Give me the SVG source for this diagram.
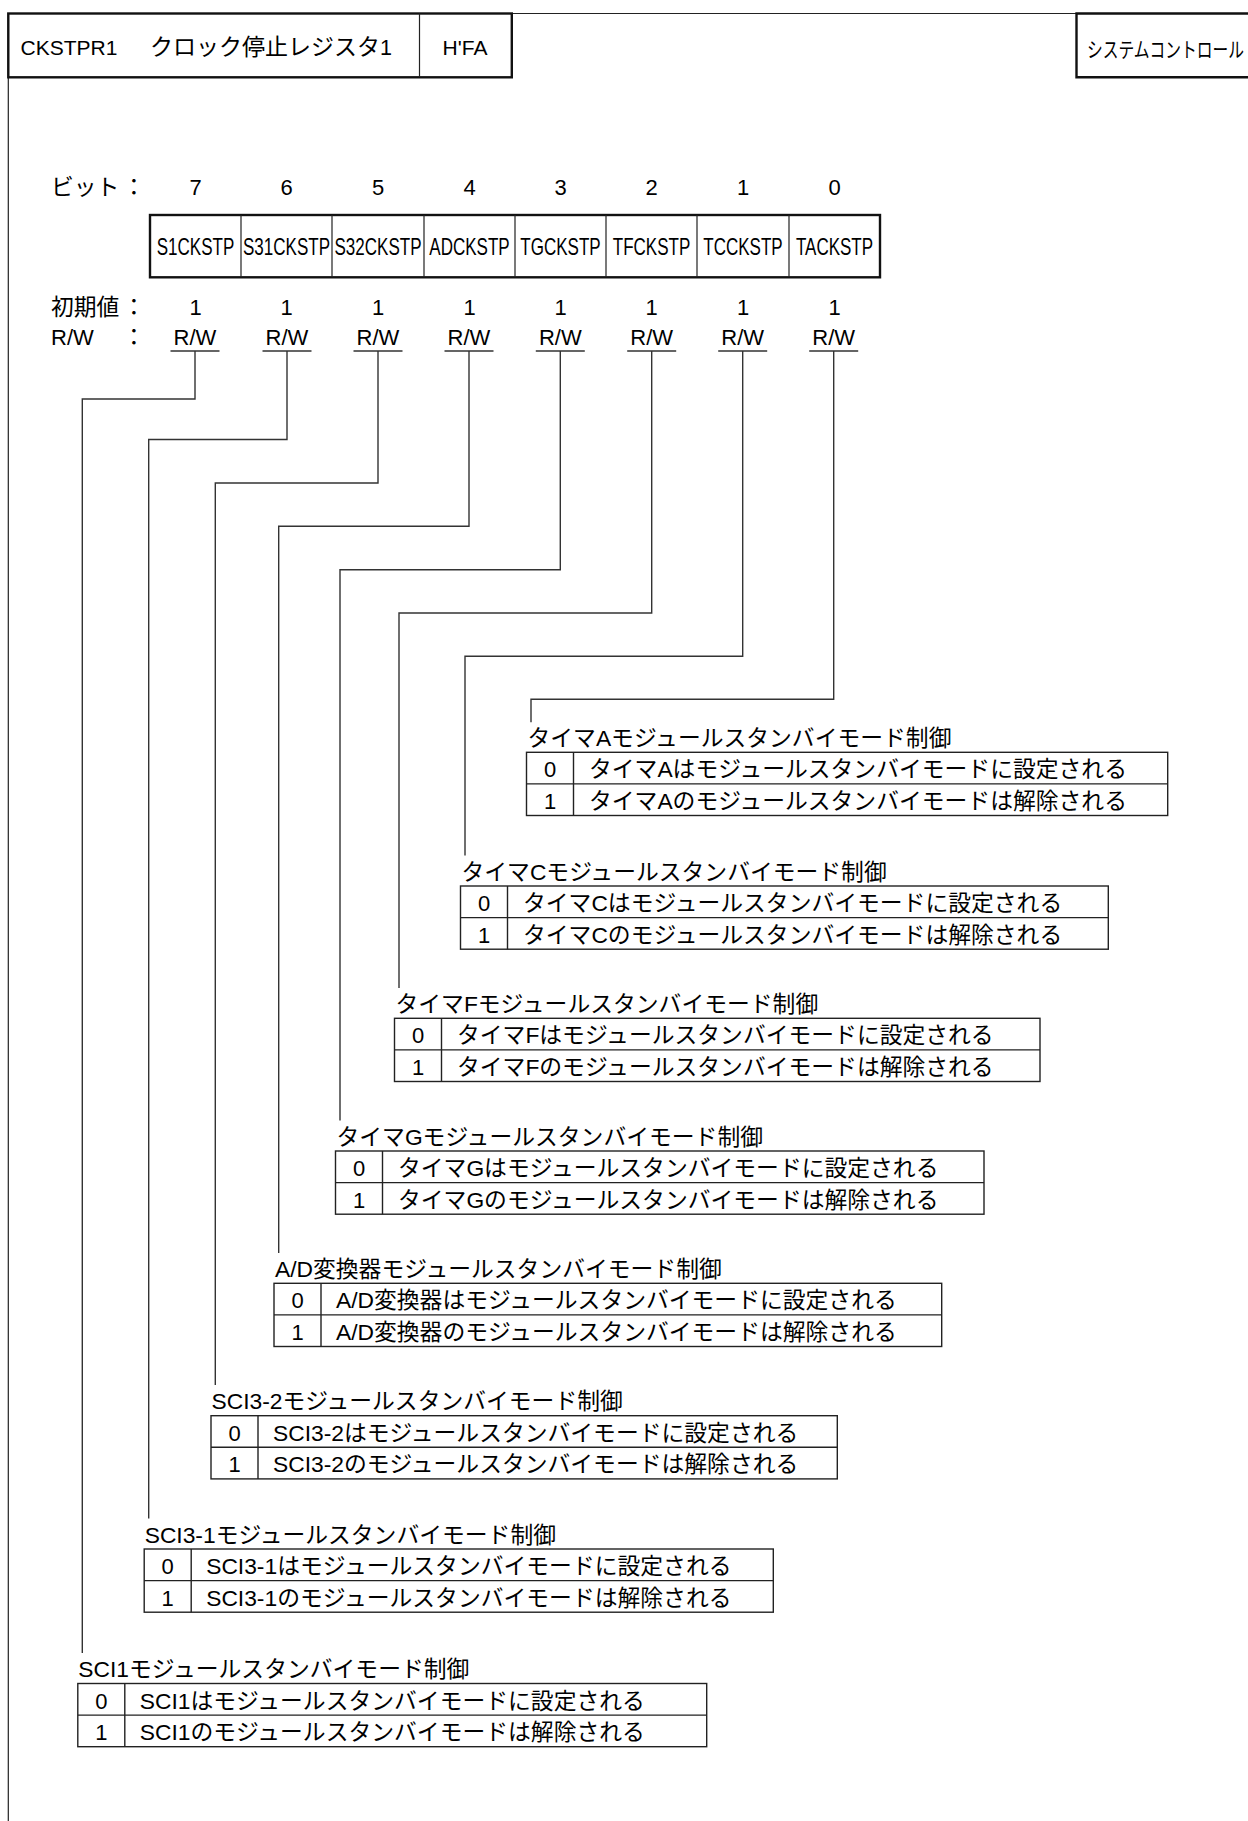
<svg xmlns="http://www.w3.org/2000/svg" width="1248" height="1821" viewBox="0 0 1248 1821">
<style>
.t{font-family:"Liberation Sans","Noto Sans CJK JP",sans-serif;fill:#000}
.s21{font-size:21px}
.s22{font-size:22px}
.s23{font-size:22.8px}
.d{font-size:22px}
.m{text-anchor:middle}
.cell{font-family:"Liberation Sans","Noto Sans CJK JP",sans-serif;font-size:23px;text-anchor:middle;fill:#000}
.thick{fill:none;stroke:#111;stroke-width:2.4}
.thin{fill:none;stroke:#222;stroke-width:1.2}
.tb{fill:none;stroke:#222;stroke-width:1.4}
.cn{fill:none;stroke:#333;stroke-width:1.4}
</style>
<rect x="0" y="0" width="1248" height="1821" fill="#fff"/>

<g id="frame">
<path class="thin" d="M8.3,1821 V13.5 H1248"/>
</g>

<g id="header">
<rect class="thick" x="8.3" y="13.5" width="503.5" height="63.8"/>
<line class="thin" x1="419.5" y1="13.5" x2="419.5" y2="77.3"/>
<text class="t s21" x="20.5" y="55">CKSTPR1<tspan x="150" style="font-size:23px">クロック停止レジスタ</tspan><tspan style="font-size:21.5px">1</tspan></text>
<text class="t s21 m" x="465" y="55">H'FA</text>
</g>

<g id="system-label">
<path class="thick" d="M1250,13.5 H1076.5 V77.3 H1250"/>
<text class="t" style="font-size:21px" transform="translate(1087,57) scale(0.75,1)">システムコントロール</text>
</g>

<g id="bit-labels">
<text class="t s23" x="51" y="195">ビット</text>
<text class="t s23 m" x="134" y="195">：</text>
<text class="t d m" x="195.5" y="195">7</text>
<text class="t d m" x="286.5" y="195">6</text>
<text class="t d m" x="378" y="195">5</text>
<text class="t d m" x="469.5" y="195">4</text>
<text class="t d m" x="560.5" y="195">3</text>
<text class="t d m" x="651.5" y="195">2</text>
<text class="t d m" x="743" y="195">1</text>
<text class="t d m" x="834.5" y="195">0</text>
</g>

<g id="bit-table">
<rect class="thick" x="150" y="215" width="730" height="62.3"/>
<path class="thin" d="M241,215V277.3M332,215V277.3M424,215V277.3M515,215V277.3M606,215V277.3M697,215V277.3M789,215V277.3"/>
<text class="cell" transform="translate(195.5,255) scale(0.74,1)">S1CKSTP</text>
<text class="cell" transform="translate(286.5,255) scale(0.74,1)">S31CKSTP</text>
<text class="cell" transform="translate(378,255) scale(0.74,1)">S32CKSTP</text>
<text class="cell" transform="translate(469.5,255) scale(0.74,1)">ADCKSTP</text>
<text class="cell" transform="translate(560.5,255) scale(0.74,1)">TGCKSTP</text>
<text class="cell" transform="translate(651.5,255) scale(0.74,1)">TFCKSTP</text>
<text class="cell" transform="translate(743,255) scale(0.74,1)">TCCKSTP</text>
<text class="cell" transform="translate(834.5,255) scale(0.74,1)">TACKSTP</text>
</g>

<g id="initial-values">
<text class="t s23" x="51" y="315">初期値</text>
<text class="t s23 m" x="134" y="315">：</text>
<text class="t d m" x="195.5" y="315">1</text>
<text class="t d m" x="286.5" y="315">1</text>
<text class="t d m" x="378" y="315">1</text>
<text class="t d m" x="469.5" y="315">1</text>
<text class="t d m" x="560.5" y="315">1</text>
<text class="t d m" x="651.5" y="315">1</text>
<text class="t d m" x="743" y="315">1</text>
<text class="t d m" x="834.5" y="315">1</text>
</g>

<g id="rw-row">
<text class="t s22" x="51" y="345">R/W</text>
<text class="t s23 m" x="134" y="345">：</text>
<g class="t s22 m">
<text x="195" y="345">R/W</text>
<text x="287" y="345">R/W</text>
<text x="378" y="345">R/W</text>
<text x="469" y="345">R/W</text>
<text x="560.3" y="345">R/W</text>
<text x="651.7" y="345">R/W</text>
<text x="742.7" y="345">R/W</text>
<text x="833.7" y="345">R/W</text>
</g>
<path class="cn" d="M170.5,351H219.5M262.5,351H311.5M353.5,351H402.5M444.5,351H493.5M535.8,351H584.8M627.2,351H676.2M718.2,351H767.2M809.2,351H858.2"/>
</g>

<g id="connectors">
<path class="cn" d="M195,351 V399 H82.3 V1653"/>
<path class="cn" d="M287,351 V439.5 H148.7 V1518.5"/>
<path class="cn" d="M378,351 V483 H215.3 V1385"/>
<path class="cn" d="M469,351 V526.3 H278.7 V1253"/>
<path class="cn" d="M560.3,351 V569.7 H340 V1120.5"/>
<path class="cn" d="M651.7,351 V613 H399 V988"/>
<path class="cn" d="M742.7,351 V656.3 H465 V855.5"/>
<path class="cn" d="M833.7,351 V699.3 H531 V722.3"/>
</g>

<g id="desc-bit0">
<text class="t s23" x="527.5" y="745.8">タイマAモジュールスタンバイモード制御</text>
<rect class="tb" x="526.5" y="752.3" width="641.2" height="63.2"/>
<path class="tb" d="M573.5,752.3V815.5M526.5,783.9H1167.7"/>
<text class="t d m" x="550" y="777.3">0</text>
<text class="t d m" x="550" y="808.9">1</text>
<text class="t s23" x="589" y="777.3">タイマAはモジュールスタンバイモードに設定される</text>
<text class="t s23" x="589" y="808.9">タイマAのモジュールスタンバイモードは解除される</text>
</g>

<g id="desc-bit1">
<text class="t s23" x="461.5" y="879.5">タイマCモジュールスタンバイモード制御</text>
<rect class="tb" x="460.5" y="886" width="647.8" height="63.2"/>
<path class="tb" d="M507.5,886V949.2M460.5,917.6H1108.3"/>
<text class="t d m" x="484" y="911">0</text>
<text class="t d m" x="484" y="942.6">1</text>
<text class="t s23" x="523" y="911">タイマCはモジュールスタンバイモードに設定される</text>
<text class="t s23" x="523" y="942.6">タイマCのモジュールスタンバイモードは解除される</text>
</g>

<g id="desc-bit2">
<text class="t s23" x="395.5" y="1011.8">タイマFモジュールスタンバイモード制御</text>
<rect class="tb" x="394.5" y="1018.3" width="645.5" height="63.2"/>
<path class="tb" d="M441.5,1018.3V1081.5M394.5,1049.9H1040"/>
<text class="t d m" x="418" y="1043.3">0</text>
<text class="t d m" x="418" y="1074.9">1</text>
<text class="t s23" x="457" y="1043.3">タイマFはモジュールスタンバイモードに設定される</text>
<text class="t s23" x="457" y="1074.9">タイマFのモジュールスタンバイモードは解除される</text>
</g>

<g id="desc-bit3">
<text class="t s23" x="336.5" y="1144.5">タイマGモジュールスタンバイモード制御</text>
<rect class="tb" x="335.5" y="1151" width="648.5" height="63.2"/>
<path class="tb" d="M382.5,1151V1214.2M335.5,1182.6H984"/>
<text class="t d m" x="359" y="1176">0</text>
<text class="t d m" x="359" y="1207.6">1</text>
<text class="t s23" x="398" y="1176">タイマGはモジュールスタンバイモードに設定される</text>
<text class="t s23" x="398" y="1207.6">タイマGのモジュールスタンバイモードは解除される</text>
</g>

<g id="desc-bit4">
<text class="t s23" x="275" y="1276.8">A/D変換器モジュールスタンバイモード制御</text>
<rect class="tb" x="274" y="1283.3" width="667.7" height="63.2"/>
<path class="tb" d="M321,1283.3V1346.5M274,1314.9H941.7"/>
<text class="t d m" x="297.5" y="1308.3">0</text>
<text class="t d m" x="297.5" y="1339.9">1</text>
<text class="t s23" x="336" y="1308.3">A/D変換器はモジュールスタンバイモードに設定される</text>
<text class="t s23" x="336" y="1339.9">A/D変換器のモジュールスタンバイモードは解除される</text>
</g>

<g id="desc-bit5">
<text class="t s23" x="211.5" y="1409.2">SCI3-2モジュールスタンバイモード制御</text>
<rect class="tb" x="211" y="1415.7" width="626.3" height="63.2"/>
<path class="tb" d="M258,1415.7V1478.9M211,1447.3H837.3"/>
<text class="t d m" x="234.5" y="1440.7">0</text>
<text class="t d m" x="234.5" y="1472.3">1</text>
<text class="t s23" x="273" y="1440.7">SCI3-2はモジュールスタンバイモードに設定される</text>
<text class="t s23" x="273" y="1472.3">SCI3-2のモジュールスタンバイモードは解除される</text>
</g>

<g id="desc-bit6">
<text class="t s23" x="144.7" y="1542.5">SCI3-1モジュールスタンバイモード制御</text>
<rect class="tb" x="144.2" y="1549" width="629.1" height="63.2"/>
<path class="tb" d="M191.2,1549V1612.2M144.2,1580.6H773.3"/>
<text class="t d m" x="167.7" y="1574">0</text>
<text class="t d m" x="167.7" y="1605.6">1</text>
<text class="t s23" x="206.2" y="1574">SCI3-1はモジュールスタンバイモードに設定される</text>
<text class="t s23" x="206.2" y="1605.6">SCI3-1のモジュールスタンバイモードは解除される</text>
</g>

<g id="desc-bit7">
<text class="t s23" x="78.3" y="1677">SCI1モジュールスタンバイモード制御</text>
<rect class="tb" x="77.8" y="1683.5" width="628.9" height="63.2"/>
<path class="tb" d="M124.8,1683.5V1746.7M77.8,1715.1H706.7"/>
<text class="t d m" x="101.3" y="1708.5">0</text>
<text class="t d m" x="101.3" y="1740.1">1</text>
<text class="t s23" x="139.8" y="1708.5">SCI1はモジュールスタンバイモードに設定される</text>
<text class="t s23" x="139.8" y="1740.1">SCI1のモジュールスタンバイモードは解除される</text>
</g>
</svg>
